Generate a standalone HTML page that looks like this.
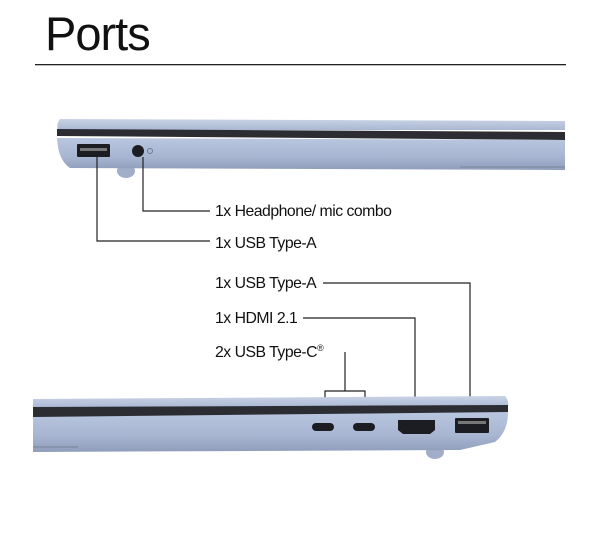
<!DOCTYPE html>
<html><head><style>
body{margin:0;background:#fff;width:600px;height:532px;overflow:hidden}
text{font-family:"Liberation Sans",sans-serif;fill:#111}
</style></head><body>
<svg width="600" height="532" viewBox="0 0 600 532" xmlns="http://www.w3.org/2000/svg">
<defs>
<linearGradient id="lid" x1="0" y1="0" x2="0" y2="1"><stop offset="0" stop-color="#c9d3e6"/><stop offset="1" stop-color="#a9b7d2"/></linearGradient>
<linearGradient id="base" x1="0" y1="0" x2="0" y2="1"><stop offset="0" stop-color="#b9c6df"/><stop offset="0.6" stop-color="#a7b5d1"/><stop offset="1" stop-color="#8f9dbb"/></linearGradient>
</defs>
<text x="45" y="50" font-size="47" letter-spacing="-1">Ports</text>
<rect x="35" y="64" width="531" height="1.3" fill="#222"/>

<ellipse cx="126" cy="171" rx="9" ry="7" fill="#a2aec8"/>
<path d="M60 119 L565 121 L565 130 L58 130 Q56 124 60 119Z" fill="url(#lid)"/>
<path d="M57 129 L565 132 L565 140 L57 136Z" fill="#2b2d33"/>
<path d="M57 138 L565 140 L565 170 L70 168 Q58 160 57 138Z" fill="url(#base)"/>
<rect x="460" y="166" width="105" height="2" fill="#8893ad"/>
<rect x="77" y="144" width="33" height="13" rx="1" fill="#1c1d22"/>
<rect x="80" y="148" width="27" height="3" fill="#777"/>
<circle cx="138" cy="151" r="6" fill="#1c1d22"/>
<circle cx="150" cy="151" r="2.5" fill="none" stroke="#6d7890" stroke-width="1"/>

<g stroke="#222" stroke-width="1.2" fill="none">
<path d="M97 157 V241 H210"/>
<path d="M143 157 V211 H210"/>
<path d="M323 283 H470 V416"/>
<path d="M303 318 H415 V420"/>
<path d="M345 352 V391 M325 410 V391 H365 V410"/>
</g>
<text x="215" y="216" font-size="15.8" letter-spacing="-0.5">1x Headphone/ mic combo</text>
<text x="215" y="248" font-size="15.8" letter-spacing="-0.5">1x USB Type-A</text>
<text x="215" y="288" font-size="15.8" letter-spacing="-0.5">1x USB Type-A</text>
<text x="215" y="323" font-size="15.8" letter-spacing="-0.5">1x HDMI 2.1</text>
<text x="215" y="357" font-size="15.8" letter-spacing="-0.5">2x USB Type-C<tspan font-size="9" dy="-6">®</tspan></text>

<ellipse cx="435" cy="452" rx="9" ry="7" fill="#a2aec8"/>
<path d="M33 399 L505 396 Q509 400 508 407 L33 408Z" fill="url(#lid)"/>
<path d="M33 407 L508 405 L508 413 L33 418Z" fill="#2b2d33"/>
<path d="M33 417 L508 412 Q508 432 495 442 L460 450 L33 452Z" fill="url(#base)"/>
<rect x="33" y="446" width="45" height="2" fill="#8893ad"/>
<rect x="312" y="423" width="22" height="8" rx="4" fill="#1c1d22"/>
<rect x="353" y="423" width="22" height="8" rx="4" fill="#1c1d22"/>
<path d="M398 420 H435 V430 L430 434 H403 L398 430Z" fill="#1c1d22"/>
<rect x="455" y="418" width="34" height="15" rx="1" fill="#1c1d22"/>
<rect x="458" y="421" width="28" height="3" fill="#777"/>
</svg>
</body></html>
